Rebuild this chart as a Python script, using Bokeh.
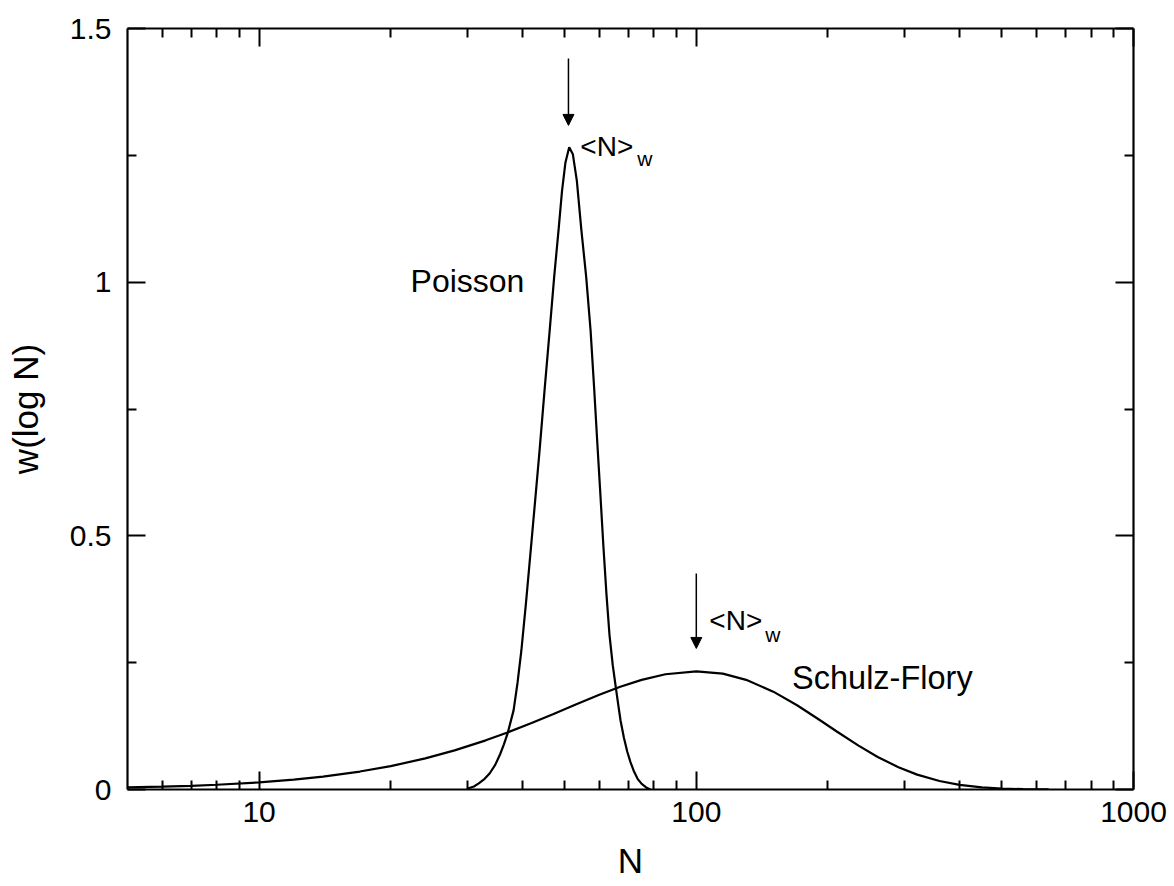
from bokeh.plotting import figure
from bokeh.models import (FixedTicker, LogAxis, LinearAxis, Arrow, NormalHead,
                          Label, CustomJSTickFormatter)
from bokeh.embed import file_html
from bokeh.resources import INLINE

# ---- data ----
poisson_N = [30.0, 31.0, 31.8, 32.8, 33.7, 34.7, 35.6, 36.3, 37.0, 38.2, 39.0, 39.8,
             40.8, 41.8, 42.8, 43.8, 45.0, 46.2, 47.3, 48.4, 49.3, 50.2, 51.2, 52.2,
             53.3, 54.6, 56.0, 57.3, 58.4, 59.4, 60.4, 61.3, 62.3, 63.3, 64.4, 65.6,
             66.4, 67.1, 68.3, 69.5, 70.7, 71.9, 73.4, 75.0, 76.8, 78.5]
poisson_w = [0.002, 0.006, 0.012, 0.021, 0.032, 0.049, 0.070, 0.089, 0.110, 0.156, 0.210, 0.274,
             0.370, 0.471, 0.570, 0.668, 0.790, 0.905, 1.010, 1.102, 1.180, 1.236, 1.266, 1.252,
             1.200, 1.102, 1.010, 0.905, 0.790, 0.680, 0.575, 0.480, 0.385, 0.305, 0.245, 0.195,
             0.163, 0.136, 0.102, 0.075, 0.054, 0.037, 0.021, 0.011, 0.004, 0.0]

schulz_N = [5, 6, 7, 8, 10, 12, 14, 17, 20, 24, 28, 33, 37, 42, 47, 53, 60, 67, 75, 85,
            100, 115, 130, 150, 170, 190, 210, 235, 260, 290, 320, 360, 400, 450, 500,
            560, 640]
schulz_w = [0.004, 0.0055, 0.0073, 0.0094, 0.014, 0.0195, 0.0255, 0.0354, 0.046, 0.0614,
            0.0771, 0.0969, 0.1124, 0.131, 0.1485, 0.1676, 0.1867, 0.2024, 0.2161, 0.2272,
            0.233, 0.2283, 0.2161, 0.1929, 0.1661, 0.139, 0.1139, 0.0865, 0.0642, 0.0438,
            0.0293, 0.0167, 0.0092, 0.0043, 0.002, 0.0007, 0.0002]

x_major = [10, 100, 1000]
x_minor = [6, 7, 8, 9, 20, 30, 40, 50, 60, 70, 80, 90,
           200, 300, 400, 500, 600, 700, 800, 900]
y_major = [0, 0.5, 1, 1.5]
y_minor = [0.25, 0.75, 1.25]

FONT = "Liberation Sans"

p = figure(width=1174, height=886, x_axis_type="log", x_range=(5, 1000),
           y_range=(0, 1.5), output_backend="svg", toolbar_location=None,
           min_border_left=127, min_border_right=41, min_border_top=28,
           min_border_bottom=97)
p.grid.visible = False
p.outline_line_color = None
p.background_fill_color = "white"
p.border_fill_color = "white"


def style(ax, show_labels):
    ax.axis_line_width = 2.2
    ax.axis_line_color = "black"
    ax.major_tick_in = 18
    ax.major_tick_out = 0
    ax.minor_tick_in = 9
    ax.minor_tick_out = 0
    ax.major_tick_line_width = 2
    ax.minor_tick_line_width = 2
    ax.major_tick_line_color = "black"
    ax.minor_tick_line_color = "black"
    ax.major_label_text_font = FONT
    ax.axis_label_text_font = FONT
    ax.axis_label_text_font_style = "normal"
    ax.axis_label_text_color = "black"
    ax.major_label_text_color = "black"
    if show_labels:
        ax.formatter = CustomJSTickFormatter(code="return tick.toString()")
        ax.major_label_text_font_size = "30px"
        ax.axis_label_text_font_size = "35px"
    else:
        ax.formatter = CustomJSTickFormatter(code="return ''")
        ax.major_label_text_font_size = "10px"
        ax.major_label_standoff = 0


xb = p.xaxis[0]
xb.ticker = FixedTicker(ticks=x_major, minor_ticks=x_minor)
xb.axis_label = "N"
style(xb, True)
xb.major_label_standoff = 12
xb.axis_label_standoff = 16

yl = p.yaxis[0]
yl.ticker = FixedTicker(ticks=y_major, minor_ticks=y_minor)
yl.axis_label = "w(log N)"
style(yl, True)
yl.major_label_standoff = 16
yl.axis_label_standoff = 22

xt = LogAxis(ticker=FixedTicker(ticks=x_major, minor_ticks=x_minor))
style(xt, False)
p.add_layout(xt, "above")

yr = LinearAxis(ticker=FixedTicker(ticks=y_major, minor_ticks=y_minor))
style(yr, False)
p.add_layout(yr, "right")

p.line(poisson_N, poisson_w, line_color="black", line_width=2.2)
p.line(schulz_N, schulz_w, line_color="black", line_width=2.2)

# arrows marking <N>w
arrow_x = [51.0, 100.0]
arrow_top = [1.441, 0.426]
arrow_tip = [1.309, 0.278]
for ax_, y0, y1 in zip(arrow_x, arrow_top, arrow_tip):
    p.add_layout(Arrow(end=NormalHead(size=11, fill_color="black", line_color="black"),
                       x_start=ax_, y_start=y0, x_end=ax_, y_end=y1,
                       line_width=1.5, line_color="black"))

texts = [
    ("Poisson", 22.2, 1.003, "32px"),
    ("Schulz-Flory", 165.6, 0.220, "32.5px"),
    ("<N>", 54.3, 1.2675, "28px"),
    ("w", 73.3, 1.244, "21px"),
    ("<N>", 107.1, 0.333, "28px"),
    ("w", 143.7, 0.3055, "21px"),
]
for t, x, y, fs in texts:
    p.add_layout(Label(x=x, y=y, text=t, text_font=FONT, text_font_size=fs,
                       text_color="black", text_baseline="alphabetic",
                       text_align="left"))

open("out.html", "w").write(file_html(p, INLINE))
